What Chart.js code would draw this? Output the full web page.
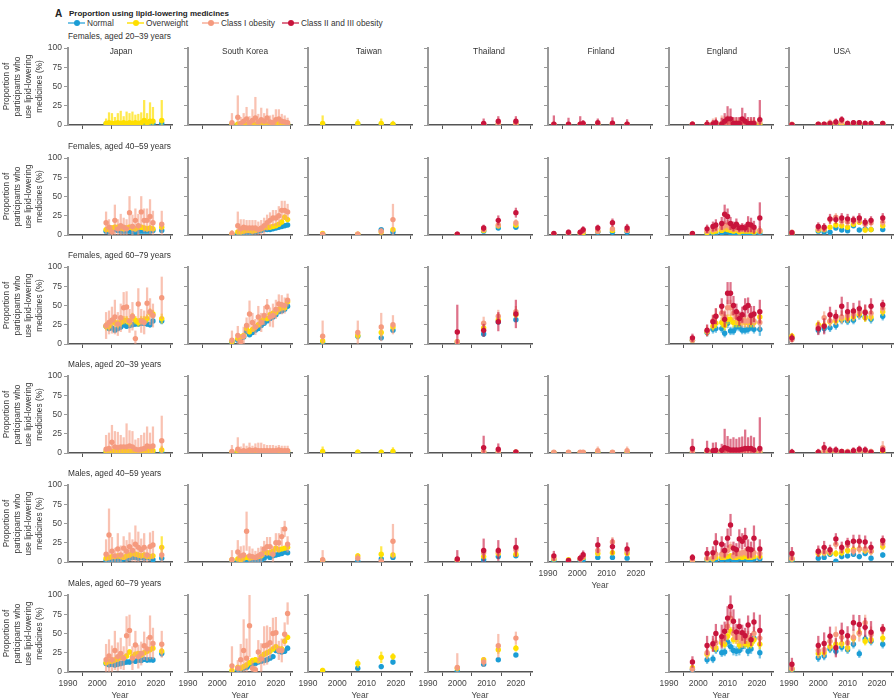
<!DOCTYPE html>
<html>
<head>
<meta charset="utf-8">
<script src="https://cdn.jsdelivr.net/npm/chart.js@4.4.1/dist/chart.umd.min.js"></script>
<style>
  body { margin: 0; width: 894px; height: 699px; overflow: hidden; background: #fff; position: relative;
         font-family: "Liberation Sans", Arial, sans-serif; color: #333; }
  canvas { position: absolute; }
  .t { position: absolute; white-space: nowrap; font-size: 8.3px; line-height: 12px; }
  .mid { transform: translateX(-50%); }
  .legline { position: absolute; height: 2px; width: 17px; }
  .legdot { position: absolute; width: 6px; height: 6px; border-radius: 50%; }
</style>
</head>
<body>
<div class="t" style="left:55px;top:8px;font-size:10px;font-weight:bold;color:#222">A</div>
<div class="t" style="left:69px;top:8px;font-size:8px;font-weight:bold;color:#222">Proportion using lipid-lowering medicines</div>
<script>
// survey years per country
const yearsJapan = [2003, 2004, 2005, 2006, 2007, 2008, 2009, 2010, 2011, 2012, 2013, 2014, 2015, 2016, 2017, 2018, 2019, 2022];
const yearsKorea = [2005, 2007, 2008, 2009, 2010, 2011, 2012, 2013, 2014, 2015, 2016, 2017, 2018, 2019, 2020, 2021, 2022, 2023, 2024];
const yearsTaiwan = [1995, 2007, 2015, 2019];
const yearsThailand = [2000, 2009, 2014, 2020];
const yearsFinland = [1992, 1997, 2001, 2002, 2007, 2012, 2017];
const yearsEngland = [1998, 2003, 2005, 2006, 2008, 2009, 2010, 2011, 2012, 2013, 2014, 2015, 2016, 2017, 2018, 2019, 2021];
const yearsUSA = [1991, 2000, 2002, 2004, 2006, 2008, 2010, 2012, 2014, 2016, 2018, 2022];

const xTicks = [1990, 2000, 2010, 2020];
const yTicks = [0, 25, 50, 75, 100];

// n = normal, o = overweight, c1 = class I, c2 = class II and III; *E = error half-width (%)
// ---- Females 20-39
const f20Japan = {
  n:  [1, 0.5, 1, 0.5, 0.5, 1, 0.5, 1, 0.5, 1, 0.5, 1, 1, 0.5, 1, 1, 1, 2],
  nE: [1, 1, 1, 1, 1, 1, 1, 1, 1, 1, 1, 1, 1, 1, 1, 1, 1, 2],
  o:  [2, 3, 2, 2, 3, 2, 3, 2, 3, 2, 3, 2, 3, 6, 3, 5, 5, 6],
  oE: [6, 13, 13, 8, 12, 16, 8, 15, 12, 15, 10, 12, 13, 26, 12, 24, 18, 26]
};
const f20Korea = {
  n:  [0.3, 0.3, 0.3, 0.3, 0.3, 0.3, 0.3, 0.3, 0.3, 0.3, 0.3, 0.3, 0.3, 0.3, 0.3, 0.3, 0.3, 0.3, 0.3],
  nE: [0.5, 0.5, 0.5, 0.5, 0.5, 0.5, 0.5, 0.5, 0.5, 0.5, 0.5, 0.5, 0.5, 0.5, 0.5, 0.5, 0.5, 0.5, 0.5],
  o:  [1, 1, 1, 1, 1, 1, 1, 1, 1, 1, 2, 1, 1, 1, 1, 2, 1, 2, 1],
  oE: [2, 2, 2, 2, 2, 2, 2, 2, 2, 2, 3, 2, 2, 2, 2, 3, 2, 3, 2],
  c1: [3, 10, 2, 5, 8, 3, 6, 9, 4, 7, 5, 9, 4, 3, 7, 8, 5, 4, 3],
  c1E:[12, 28, 8, 10, 15, 8, 14, 27, 10, 15, 10, 12, 8, 10, 13, 12, 9, 8, 6]
};
const f20Taiwan = {
  n: [0.5, 0.5, 0.5, 0.3], nE: [1, 1, 1, 1],
  o: [2, 2, 2, 1], oE: [10, 5, 6, 4]
};
const f20Thailand = {
  n: [null, 0.3, 0.5, 0.5], nE: [0, 1, 1, 1],
  o: [null, 0.5, 1, 1], oE: [0, 1, 2, 2],
  c1: [null, 1, 1.5, 2], c1E: [0, 2, 3, 3],
  c2: [null, 2, 5, 5], c2E: [0, 6, 6, 6]
};
const f20Finland = {
  n: [0.2, 0.2, 0.2, 0.2, 0.3, 0.3, 0.3], nE: [0.5, 0.5, 0.5, 0.5, 0.5, 0.5, 0.5],
  o: [0.5, 0.5, 0.5, 0.8, 0.8, 1, 0.5], oE: [1, 1, 1, 1, 1, 1, 1],
  c1: [1, 0.5, 1, 1, 1, 1.5, 1], c1E: [2, 2, 2, 2, 2, 2, 2],
  c2: [1, 1, 1, 2, 3, 2.5, 1], c2E: [11, 8, 10, 4, 5, 7, 6]
};
const f20England = {
  n:  [0.3, 0.3, 0.3, 0.3, 0.3, 0.3, 0.3, 0.3, 0.3, 0.3, 0.3, 0.3, 0.3, 0.3, 0.3, 0.3, 0.3],
  nE: [0.5, 0.5, 0.5, 0.5, 0.5, 0.5, 0.5, 0.5, 0.5, 0.5, 0.5, 0.5, 0.5, 0.5, 0.5, 0.5, 0.5],
  o:  [0.5, 0.5, 0.8, 0.8, 1, 1, 1, 1, 1, 1, 1, 1, 1, 1, 1, 1, 1.5],
  oE: [1, 1, 1, 1, 1, 1, 1, 1, 1, 1, 1, 1, 1, 1, 1, 1, 1],
  c1: [1, 1, 2, 2, 2, 3, 4, 3, 3, 3, 3, 3, 2, 2, 2, 3, 4],
  c1E:[3, 5, 6, 8, 10, 8, 8, 6, 6, 6, 6, 6, 6, 6, 6, 6, 8],
  c2: [1, 1, 1, 3, 1, 5, 8, 8, 2, 2, 2, 8, 5, 2, 2, 2, 7],
  c2E:[3, 5, 5, 5, 8, 10, 16, 13, 8, 8, 8, 14, 10, 8, 8, 8, 25]
};
const f20USA = {
  n:  [0.3, 0.3, 0.3, 0.3, 0.3, 0.3, 0.3, 0.3, 0.3, 0.3, 0.3, 0.3],
  nE: [0.5, 0.5, 0.5, 0.5, 0.5, 0.5, 0.5, 0.5, 0.5, 0.5, 0.5, 0.5],
  o:  [0.5, 0.5, 0.5, 1, 1, 1, 0.5, 1, 1, 0.5, 0.5, 1],
  oE: [1, 1, 1, 1, 1, 1, 1, 1, 1, 1, 1, 1],
  c1: [1, 1, 1, 3, 3, 4, 2, 2, 3, 2, 2, 2],
  c1E:[2, 2, 2, 4, 4, 4, 3, 3, 3, 3, 3, 3],
  c2: [0.5, 1, 1, 2, 4, 7, 2, 3, 3, 2, 2, 2],
  c2E:[1, 2, 2, 3, 4, 4, 3, 3, 3, 3, 3, 2]
};

// ---- Females 40-59
const f40Japan = {
  n:  [5, 4, 5, 7, 6, 5, 5, 5, 5, 4, 4, 5, 5, 5, 5, 5, 6, 6],
  nE: [2, 2, 2, 2, 2, 2, 2, 2, 2, 2, 2, 2, 2, 2, 2, 2, 2, 2],
  o:  [7, 7, 9, 10, 10, 9, 8, 9, 10, 9, 8, 10, 10, 9, 8, 9, 8, 10],
  oE: [3, 3, 3, 3, 3, 3, 3, 3, 3, 3, 3, 3, 3, 3, 3, 3, 3, 3],
  c1: [16, 10, 4, 19, 8, 12, 10, 8, 29, 11, 19, 12, 30, 19, 19, 24, 16, 14],
  c1E:[14, 10, 8, 20, 12, 15, 12, 12, 21, 15, 15, 15, 20, 15, 15, 22, 15, 17]
};
const f40Korea = {
  n:  [0.5, 1, 2, 2, 3, 3, 4, 4, 5, 6, 7, 7, 7, 8, 9, 10, 11, 12, 13],
  nE: [1, 1, 1, 1, 1, 1, 1, 1, 1, 1, 1, 1, 1, 1, 1, 1, 1, 1, 2],
  o:  [1, 4, 4, 5, 6, 6, 5, 6, 7, 8, 10, 10, 10, 11, 12, 14, 17, 23, 20],
  oE: [2, 2, 2, 2, 2, 2, 2, 2, 2, 2, 2, 2, 2, 2, 2, 2, 3, 3, 3],
  c1: [2, 12, 8, 10, 9, 9, 9, 9, 7, 9, 12, 16, 19, 22, 22, 25, 32, 32, 30],
  c1E:[4, 18, 12, 10, 10, 10, 10, 10, 10, 10, 10, 10, 10, 10, 10, 12, 12, 12, 10]
};
const f40Taiwan = {
  n: [1, 0.5, 7, 4], nE: [1, 1, 2, 2],
  o: [2, 1, 4, 7], oE: [2, 2, 3, 3],
  c1: [1, 1, 5, 20], c1E: [2, 3, 4, 20]
};
const f40Thailand = {
  n: [0.5, 5, 9, 10], nE: [1, 2, 2, 2],
  o: [0.5, 6, 12, 13], oE: [1, 2, 3, 3],
  c1: [0.5, 7, 13, 16], c1E: [1, 3, 4, 4],
  c2: [1, 9, 19, 29], c2E: [3, 4, 6, 6]
};
const f40Finland = {
  n: [0.5, 1, 1, 1, 3.5, 3.5, 3.5], nE: [1, 1, 1, 1, 1, 1, 1],
  o: [1, 1, 2, 3, 5, 6, 6], oE: [1, 1, 1, 2, 2, 2, 2],
  c1: [1, 2, 3, 5, 5, 8, 6], c1E: [1, 2, 2, 3, 3, 3, 3],
  c2: [2, 3.5, 3.5, 7, 9, 16, 9], c2E: [2, 3, 3, 4, 4, 5, 5]
};
const f40England = {
  n:  [0.5, 1, 2, 2, 3, 4, 4, 3, 3, 3, 2, 3, 3, 2, 2, 2, 2],
  nE: [1, 1, 1, 1, 1, 2, 2, 1, 1, 1, 1, 1, 1, 1, 1, 1, 2],
  o:  [1, 3, 4, 5, 6, 8, 7, 6, 5, 6, 4, 5, 5, 5, 5, 4, 5],
  oE: [1, 2, 2, 2, 2, 3, 3, 2, 2, 2, 2, 2, 2, 2, 2, 2, 3],
  c1: [1, 5, 7, 8, 10, 12, 13, 10, 8, 9, 7, 8, 7, 8, 8, 7, 6],
  c1E:[1, 3, 4, 4, 5, 6, 6, 5, 4, 5, 4, 4, 4, 5, 5, 4, 5],
  c2: [2, 8, 11, 13, 15, 27, 24, 15, 11, 14, 9, 10, 9, 14, 13, 10, 22],
  c2E:[2, 5, 6, 7, 8, 12, 10, 8, 6, 7, 5, 5, 5, 10, 9, 8, 20]
};
const f40USA = {
  n:  [1, 5, 4, 3.5, 9, 6.5, 5.6, 12, 6.5, 8, 7, 7],
  nE: [1, 2, 2, 2, 2, 2, 2, 2, 2, 2, 2, 2],
  o:  [2, 6.5, 7, 10, 13, 12, 10, 14, 16.5, 6.5, 7, 12],
  oE: [2, 3, 3, 3, 3, 3, 3, 3, 3, 3, 3, 3],
  c1: [3.5, 8, 8, 20, 23, 18, 17, 18, 19, 14, 16, 16.5],
  c1E:[3, 4, 4, 5, 5, 5, 5, 5, 5, 5, 5, 5],
  c2: [3, 11, 10, 21, 20, 22, 21, 19.5, 22, 16.5, 19, 22],
  c2E:[3, 5, 5, 6, 5, 6, 6, 5, 6, 5, 5, 6]
};

// ---- Females 60-79
const f60Japan = {
  n:  [23, 20, 21, 18, 20, 22, 25, 23, 24, 25, 26, 26, 27, 27, 26, 25, 30, 30],
  nE: [3, 3, 3, 3, 3, 3, 3, 3, 3, 3, 3, 3, 3, 3, 3, 3, 3, 4],
  o:  [23, 23, 29, 28, 26, 28, 31, 31, 28, 35, 31, 28, 31, 31, 33, 41, 39, 33],
  oE: [5, 5, 5, 5, 5, 5, 5, 5, 5, 5, 5, 5, 5, 5, 5, 5, 5, 6],
  c1: [24, 28, 31, 35, 26, 34, 47, 48, 30, 36, 7, 52, 30, 28, 53, 42, 37, 60],
  c1E:[17, 15, 17, 22, 15, 18, 20, 20, 15, 18, 10, 20, 15, 15, 20, 17, 15, 27]
};
const f60Korea = {
  n:  [2, 5, 7, 9, 16, 12, 15, 18, 20, 24, 27, 30, 33, 35, 38, 42, 43, 45, 49],
  nE: [1, 2, 2, 2, 2, 2, 2, 2, 2, 2, 2, 2, 2, 2, 2, 2, 2, 2, 2],
  o:  [3, 7, 9, 11, 20, 16, 19, 22, 25, 30, 34, 33, 38, 40, 41, 45, 47, 47, 55],
  oE: [3, 3, 3, 3, 3, 3, 3, 3, 3, 3, 3, 3, 3, 3, 3, 3, 3, 3, 3],
  c1: [5, 11, 3, 10, 24, 39, 28, 22, 35, 28, 37, 48, 35, 37, 45, 52, 51, 50, 57],
  c1E:[12, 12, 8, 12, 10, 17, 12, 10, 14, 12, 12, 10, 12, 15, 12, 12, 12, 10, 8]
};
const f60Taiwan = {
  n: [1, 10, 8, 18], nE: [1, 3, 3, 3],
  o: [4, 11, 15, 22], oE: [4, 5, 5, 5],
  c1: [10, 15, 22, 25], c1E: [20, 15, 18, 12]
};
const f60Thailand = {
  n: [1, 13, 28.6, 31.6], nE: [1, 3, 3, 3],
  o: [3, 21, 31.6, 38], oE: [3, 4, 4, 4],
  c1: [3, 27, 36, 42], c1E: [3, 8, 8, 7],
  c2: [15.6, 17.7, 29, 39], c2E: [35, 8, 12, 18]
};
const f60England = {
  n:  [5, 15, 19, 20, 20, 14, 27, 17, 17, 22, 22, 18, 18, 19, 22, 19, 19],
  nE: [3, 5, 5, 5, 5, 5, 6, 5, 5, 5, 5, 5, 5, 5, 5, 5, 8],
  o:  [5, 16, 23, 27, 28, 24, 32, 32, 28, 28, 28, 30, 28, 28, 28, 28, 35],
  oE: [3, 5, 5, 6, 6, 6, 6, 6, 6, 6, 6, 6, 6, 6, 6, 6, 8],
  c1: [5, 17, 30, 36, 40, 35, 47, 47, 40, 35, 33, 30, 30, 30, 33, 30, 28],
  c1E:[3, 7, 8, 10, 10, 9, 10, 10, 9, 9, 8, 8, 8, 8, 8, 8, 10],
  c2: [8, 18, 29, 36, 49, 32, 66, 66, 50, 42, 33, 38, 47, 50, 37, 39, 42],
  c2E:[5, 7, 8, 10, 10, 10, 14, 14, 12, 10, 9, 10, 12, 10, 12, 10, 15]
};
const f60USA = {
  n:  [7, 18, 20, 21, 24, 31, 30, 31, 37, 35, 32, 36],
  nE: [3, 5, 5, 5, 5, 5, 5, 5, 5, 5, 5, 5],
  o:  [10, 25, 24, 29, 30, 33, 33, 35, 39, 34, 35, 42],
  oE: [4, 5, 5, 5, 5, 5, 5, 5, 5, 5, 5, 5],
  c1: [6, 22, 34, 30, 33, 35, 37, 39, 42, 42, 40, 46],
  c1E:[4, 8, 8, 8, 8, 8, 8, 8, 8, 8, 8, 6],
  c2: [8, 20, 23, 38, 36, 49, 42, 43, 46, 41, 49, 51],
  c2E:[5, 8, 10, 10, 8, 12, 12, 10, 10, 10, 10, 6]
};

// ---- Males 20-39
const m20Japan = {
  n:  [0.5, 0.5, 0.5, 0.5, 0.5, 0.5, 0.5, 0.5, 0.5, 0.5, 0.5, 0.5, 0.5, 0.5, 0.5, 0.5, 0.5, 0.5],
  nE: [1, 1, 1, 1, 1, 1, 1, 1, 1, 1, 1, 1, 1, 1, 1, 1, 1, 1],
  o:  [2, 2, 2, 2, 2, 2, 2, 3, 2, 2, 3, 2, 2, 2, 3, 3, 3, 4],
  oE: [3, 3, 3, 3, 3, 3, 3, 3, 3, 3, 3, 3, 3, 3, 3, 3, 3, 5],
  c1: [5, 6, 14, 8, 7, 8, 8, 8, 9, 8, 5, 4, 5, 6, 9, 8, 9, 16],
  c1E:[18, 20, 22, 20, 20, 15, 12, 30, 20, 20, 12, 15, 18, 20, 25, 18, 25, 32]
};
const m20Korea = {
  n:  [0.3, 0.3, 0.3, 0.3, 0.3, 0.3, 0.3, 0.3, 0.3, 0.3, 0.3, 0.3, 0.3, 0.3, 0.3, 0.3, 0.3, 0.3, 0.3],
  nE: [0.5, 0.5, 0.5, 0.5, 0.5, 0.5, 0.5, 0.5, 0.5, 0.5, 0.5, 0.5, 0.5, 0.5, 0.5, 0.5, 0.5, 0.5, 0.5],
  o:  [1, 2, 1, 1, 2, 1, 2, 1, 2, 2, 2, 2, 2, 2, 2, 2, 2, 2, 2],
  oE: [2, 2, 2, 2, 2, 2, 2, 2, 2, 2, 2, 2, 2, 2, 2, 2, 2, 2, 2],
  c1: [2, 5, 2, 3, 2, 4, 3, 4, 3, 3, 3, 3, 3, 3, 3, 4, 3, 3, 3],
  c1E:[8, 15, 6, 9, 7, 9, 6, 8, 10, 10, 8, 7, 7, 7, 6, 6, 6, 6, 6]
};
const m20Taiwan = {
  n: [0.3, 0.3, 0.3, 0.5], nE: [0.5, 0.5, 0.5, 0.5],
  o: [2, 1, 1, 2], oE: [6, 3, 3, 5]
};
const m20Thailand = {
  n: [null, 0.3, 0.3, 0.3], nE: [0, 0.5, 0.5, 0.5],
  o: [null, 1, 1, 1], oE: [0, 1, 1, 1],
  c1: [null, 2, 2, 1], c1E: [0, 2, 2, 1],
  c2: [null, 7, 5, 1.5], c2E: [0, 15, 7, 2]
};
const m20Finland = {
  n: [0.3, 0.3, 0.3, 0.3, 0.3, 0.3, 0.3], nE: [0.5, 0.5, 0.5, 0.5, 0.5, 0.5, 0.5],
  o: [0.5, 0.5, 0.5, 0.5, 0.5, 0.5, 0.5], oE: [1, 1, 1, 1, 1, 1, 1],
  c1: [1, 1, 1, 1, 3, 1, 3], c1E: [2, 2, 2, 2, 5, 2, 5]
};
const m20England = {
  n:  [0.3, 0.3, 0.3, 0.3, 0.3, 0.3, 0.3, 0.3, 0.3, 0.3, 0.3, 0.3, 0.3, 0.3, 0.3, 0.3, 0.3],
  nE: [0.5, 0.5, 0.5, 0.5, 0.5, 0.5, 0.5, 0.5, 0.5, 0.5, 0.5, 0.5, 0.5, 0.5, 0.5, 0.5, 0.5],
  o:  [0.8, 0.8, 0.8, 0.8, 0.8, 0.8, 0.8, 0.8, 0.8, 0.8, 0.8, 0.8, 0.8, 0.8, 0.8, 0.8, 0.8],
  oE: [1, 1, 1, 1, 1, 1, 1, 1, 1, 1, 1, 1, 1, 1, 1, 1, 1],
  c1: [2, 1, 2, 2, 2, 2, 2, 2, 2, 2, 2, 2, 2, 2, 2, 2, 3],
  c1E:[3, 3, 4, 4, 4, 4, 4, 4, 4, 4, 4, 4, 4, 4, 4, 4, 5],
  c2: [6, 3.5, 3, 3.5, 3.5, 7, 5.6, 4, 4, 4, 4, 5, 6, 6, 6, 4, 6],
  c2E:[12, 12, 10, 10, 8, 24, 16, 14, 16, 14, 16, 16, 24, 14, 16, 16, 40]
};
const m20USA = {
  n:  [0.3, 0.3, 0.3, 0.3, 0.3, 0.3, 0.3, 0.3, 0.3, 0.3, 0.3, 0.3],
  nE: [0.5, 0.5, 0.5, 0.5, 0.5, 0.5, 0.5, 0.5, 0.5, 0.5, 0.5, 0.5],
  o:  [0.5, 0.5, 1, 1, 1, 1, 0.5, 1, 1, 1, 1, 1],
  oE: [1, 1, 1, 1, 1, 1, 1, 1, 1, 1, 1, 1],
  c1: [1, 1, 3, 2, 2, 2, 2, 2, 2, 2, 2, 7],
  c1E:[3, 3, 3, 3, 3, 3, 3, 3, 3, 3, 3, 8],
  c2: [1, 1, 7, 4, 4, 2, 1, 3, 5, 4, 1, 4],
  c2E:[4, 4, 7, 4, 4, 2, 2, 4, 4, 4, 2, 4]
};

// ---- Males 40-59
const m40Japan = {
  n:  [2, 2, 3, 4, 3, 2, 4, 4, 5, 6, 6, 5, 6, 5, 6, 5, 3, 5],
  nE: [2, 2, 2, 2, 2, 2, 2, 2, 2, 2, 2, 2, 2, 2, 2, 2, 2, 2],
  o:  [5, 6, 7, 7, 8, 7, 6, 8, 9, 11, 10, 9, 8, 9, 7, 7, 8, 19],
  oE: [3, 3, 3, 3, 3, 3, 3, 3, 3, 3, 3, 3, 3, 3, 3, 3, 3, 14],
  c1: [10, 35, 14, 8, 17, 9, 18, 14, 20, 15, 23, 19, 16, 19, 9, 20, 22, 9],
  c1E:[19, 34, 18, 10, 20, 12, 15, 14, 18, 14, 24, 20, 14, 18, 10, 18, 18, 12]
};
const m40Korea = {
  n:  [0, 1, 1, 2, 2, 2, 2, 3, 3, 3, 5, 8, 6, 8, 9, 10, 11, 13, 12],
  nE: [1, 1, 1, 1, 1, 1, 1, 1, 1, 1, 1, 2, 2, 2, 2, 2, 2, 2, 2],
  o:  [3, 4, 3, 5, 6, 5, 6, 6, 7, 8, 13, 12, 12, 14, 18, 16, 17, 18, 19],
  oE: [2, 2, 2, 2, 2, 2, 2, 2, 2, 2, 2, 2, 2, 2, 2, 2, 2, 2, 2],
  c1: [3, 13, 8, 9, 40, 8, 7, 6, 8, 10, 17, 20, 20, 10, 25, 25, 33, 43, 23],
  c1E:[12, 15, 12, 12, 25, 12, 10, 8, 10, 10, 10, 12, 12, 10, 12, 12, 12, 10, 10]
};
const m40Taiwan = {
  n: [0.3, 1, 4, 6], nE: [1, 1, 2, 2],
  o: [2, 8, 10, 9], oE: [3, 3, 10, 3],
  c1: [3, 5, 1, 27], c1E: [12, 5, 3, 22]
};
const m40Thailand = {
  n: [1, 3, 7, 8], nE: [1, 2, 2, 2],
  o: [2, 7, 11, 10], oE: [2, 3, 3, 3],
  c1: [3, 12, 13, 16], c1E: [3, 6, 6, 6],
  c2: [4, 15, 15, 19], c2E: [11, 15, 13, 12]
};
const m40Finland = {
  n: [2, 1, 2, 3, 6, 6, 5], nE: [1, 1, 1, 1, 2, 2, 2],
  o: [4, 3, 4, 6, 11, 12, 11], oE: [2, 2, 2, 2, 2, 2, 2],
  c1: [5, 2, 4, 7, 15, 26, 14], c1E: [3, 2, 3, 4, 6, 6, 6],
  c2: [8, 2, 5, 9.5, 22, 20, 17], c2E: [6, 2, 4, 5, 10, 10, 8]
};
const m40England = {
  n:  [1, 3, 2, 3, 3, 4, 3, 4, 3, 3, 4, 4, 4, 3, 3, 4, 4],
  nE: [1, 2, 2, 2, 2, 2, 2, 2, 2, 2, 2, 2, 2, 2, 2, 2, 2],
  o:  [2, 4, 4, 6, 6, 6, 7, 8, 6, 6, 7, 6, 7, 6, 6, 7, 7],
  oE: [2, 3, 3, 3, 3, 3, 3, 3, 3, 3, 3, 3, 3, 3, 3, 3, 3],
  c1: [3, 5, 6, 10, 10, 10, 15, 20, 8, 10, 11, 12, 13, 10, 9, 12, 11],
  c1E:[3, 5, 5, 6, 6, 6, 6, 6, 5, 5, 5, 5, 5, 5, 5, 6, 8],
  c2: [6, 11, 12, 25, 23, 15, 31, 48, 18, 16, 30, 27, 32, 17, 16, 31, 17],
  c2E:[4, 8, 8, 12, 10, 9, 12, 14, 8, 8, 12, 10, 12, 12, 10, 16, 12]
};
const m40USA = {
  n:  [2, 5, 6, 10, 1, 7, 8, 10, 7, 11, 5, 9],
  nE: [2, 3, 3, 3, 2, 3, 3, 3, 3, 3, 3, 3],
  o:  [4, 11, 12, 12, 11, 12, 15, 16, 17, 15, 14, 20],
  oE: [3, 4, 4, 4, 4, 4, 4, 4, 4, 4, 4, 4],
  c1: [5, 13, 13, 14, 23, 17, 22, 14, 17, 17, 14, 24],
  c1E:[4, 5, 5, 5, 6, 6, 6, 5, 6, 6, 5, 6],
  c2: [11, 14, 19, 16, 30, 19, 25, 27, 27, 26, 19, 28],
  c2E:[8, 7, 8, 6, 7, 7, 6, 8, 8, 8, 7, 6]
};

// ---- Males 60-79
const m60Japan = {
  n:  [11, 9.5, 10, 9, 10, 11, 12, 13, 13, 15, 14, 15.5, 15, 16.4, 15.5, 16, 15.5, 24],
  nE: [3, 3, 3, 3, 3, 3, 3, 3, 3, 3, 3, 3, 3, 3, 3, 3, 3, 4],
  o:  [12, 14, 14, 15.5, 17, 19, 18.5, 20.7, 26, 20, 23, 24, 22, 25, 27, 29, 31, 27],
  oE: [3, 3, 3, 3, 3, 3, 3, 3, 3, 3, 3, 3, 3, 3, 3, 3, 3, 4],
  c1: [16, 21, 16, 28, 20, 24, 18, 47, 54, 18, 35, 20, 24, 34, 30, 45, 37, 36],
  c1E:[20, 21, 18, 25, 18, 20, 15, 25, 20, 15, 18, 15, 15, 18, 15, 28, 20, 17]
};
const m60Korea = {
  n:  [0, 3, 4, 5, 6, 8, 10, 11, 13, 14, 15, 16, 18, 20, 28, 27, 26, 27, 31],
  nE: [1, 1, 1, 1, 1, 1, 2, 2, 2, 2, 2, 2, 2, 2, 3, 3, 3, 3, 3],
  o:  [2, 6, 5, 7, 9, 12, 15, 16, 15, 20, 23, 25, 27, 30, 33, 30, 30, 40, 45],
  oE: [3, 3, 3, 3, 3, 3, 3, 3, 3, 3, 3, 3, 3, 3, 3, 3, 3, 3, 3],
  c1: [8, 5, 16, 28, 18, 60, 5, 3, 26, 17, 34, 35, 38, 50, 51, 28, 28, 49, 76],
  c1E:[25, 10, 20, 40, 25, 40, 10, 5, 15, 20, 25, 25, 20, 20, 20, 12, 15, 15, 14]
};
const m60Taiwan = {
  n: [1, 5, 7, 13], nE: [1, 3, 3, 3],
  o: [2, 11, 19, 20], oE: [3, 5, 7, 4]
};
const m60Thailand = {
  n: [1, 10, 16, 22], nE: [1, 2, 2, 2],
  o: [5, 16, 29, 31], oE: [3, 3, 5, 4],
  c1: [6, 13, 34, 44], c1E: [18, 6, 15, 8]
};
const m60England = {
  n:  [3, 16, 17, 29, 25, 26, 39, 33, 28, 27, 28, 33, 36, 27, 30, 44, 25],
  nE: [3, 5, 5, 5, 5, 5, 6, 6, 6, 6, 6, 6, 6, 6, 6, 6, 7],
  o:  [5.6, 23, 33, 31.5, 38, 36, 46.5, 53, 42, 42, 35, 37, 37, 36, 36, 42, 36],
  oE: [3, 5, 5, 5, 5, 5, 5, 5, 5, 5, 5, 5, 5, 5, 5, 5, 6],
  c1: [3.5, 25, 35, 38, 42, 45, 59.5, 70, 50, 45, 45, 40, 45, 45, 42, 50, 44],
  c1E:[3, 8, 8, 8, 8, 8, 8, 8, 8, 8, 8, 8, 8, 8, 8, 8, 10],
  c2: [13, 34.5, 36.6, 50, 46, 53, 70, 85, 66, 52, 59, 51, 47, 61, 42, 65, 54],
  c2E:[7, 12, 10, 12, 15, 12, 15, 14, 15, 10, 10, 10, 10, 12, 8, 12, 20]
};
const m60USA = {
  n:  [3, 18.5, 20.7, 30, 27, 32, 29, 36, 23.7, 43, 40, 36],
  nE: [3, 5, 5, 5, 5, 5, 5, 5, 5, 5, 5, 5],
  o:  [4, 24, 25, 33, 36, 36.6, 31.5, 43.5, 51, 40, 42, 44],
  oE: [4, 5, 5, 5, 5, 5, 5, 5, 5, 5, 5, 5],
  c1: [5, 28, 29, 40, 48.7, 45, 38, 45, 50, 64, 48.7, 55],
  c1E:[6, 10, 10, 10, 10, 10, 10, 10, 10, 10, 10, 6],
  c2: [10, 34.5, 37, 46.5, 31.5, 51.7, 47, 64, 61.6, 58, 51.7, 56],
  c2E:[8, 12, 14, 12, 12, 12, 12, 10, 12, 12, 14, 6]
};

const countries = [
  { name: 'Japan', years: yearsJapan, cx: 121 },
  { name: 'South Korea', years: yearsKorea, cx: 245 },
  { name: 'Taiwan', years: yearsTaiwan, cx: 369 },
  { name: 'Thailand', years: yearsThailand, cx: 489 },
  { name: 'Finland', years: yearsFinland, cx: 601 },
  { name: 'England', years: yearsEngland, cx: 722 },
  { name: 'USA', years: yearsUSA, cx: 842 }
];

const rows = [
  { label: 'Females, aged 20–39 years', panels: [f20Japan, f20Korea, f20Taiwan, f20Thailand, f20Finland, f20England, f20USA] },
  { label: 'Females, aged 40–59 years', panels: [f40Japan, f40Korea, f40Taiwan, f40Thailand, f40Finland, f40England, f40USA] },
  { label: 'Females, aged 60–79 years', panels: [f60Japan, f60Korea, f60Taiwan, f60Thailand, null, f60England, f60USA] },
  { label: 'Males, aged 20–39 years', panels: [m20Japan, m20Korea, m20Taiwan, m20Thailand, m20Finland, m20England, m20USA] },
  { label: 'Males, aged 40–59 years', panels: [m40Japan, m40Korea, m40Taiwan, m40Thailand, m40Finland, m40England, m40USA] },
  { label: 'Males, aged 60–79 years', panels: [m60Japan, m60Korea, m60Taiwan, m60Thailand, null, m60England, m60USA] }
];

const series = [
  { key: 'n',  label: 'Normal',                   color: '#1b9dd5', bar: 'rgba(27,157,213,0.6)' },
  { key: 'o',  label: 'Overweight',               color: '#ffdf00', bar: 'rgba(255,223,0,0.7)' },
  { key: 'c1', label: 'Class I obesity',          color: '#f59a7e', bar: 'rgba(245,154,126,0.6)' },
  { key: 'c2', label: 'Class II and III obesity', color: '#c8143c', bar: 'rgba(200,20,60,0.6)' }
];

// layout (px)
const COL_X = [68, 188, 308, 428, 548, 669, 789];
const ROW_TOP = [48, 158, 267, 376, 485, 595];
const PLOT_W = 104, PLOT_H = 77;
const FONT = '"Liberation Sans", Arial, sans-serif';
const tickFont = { family: FONT, size: 8.5 };

function addText(text, left, top, extra) {
  const d = document.createElement('div');
  d.className = 't' + (extra ? ' ' + extra : '');
  d.textContent = text;
  d.style.left = left + 'px';
  d.style.top = top + 'px';
  document.body.appendChild(d);
  return d;
}

// legend
const legendX = [68, 127, 202, 282];
series.forEach((s, i) => {
  const line = document.createElement('div');
  line.className = 'legline';
  line.style.left = legendX[i] + 'px';
  line.style.top = '21.5px';
  line.style.background = s.bar;
  document.body.appendChild(line);
  const dot = document.createElement('div');
  dot.className = 'legdot';
  dot.style.left = (legendX[i] + 5.5) + 'px';
  dot.style.top = '19.5px';
  dot.style.background = s.color;
  document.body.appendChild(dot);
  addText(s.label, legendX[i] + 19, 16.5);
});

function buildDatasets(panel, years) {
  const sets = [];
  series.forEach((s, i) => {
    const vals = panel[s.key];
    if (!vals) return;
    const errs = panel[s.key + 'E'];
    const bars = [], pts = [];
    vals.forEach((v, j) => {
      if (v === null) return;
      const e = errs[j];
      bars.push({ x: years[j], y: [Math.max(0, v - e), Math.min(100, v + e)] });
      pts.push({ x: years[j], y: v });
    });
    // error bars: thin floating bars on the same x scale
    sets.push({ type: 'bar', data: bars, backgroundColor: s.bar, borderWidth: 0,
      barThickness: 1.6, maxBarThickness: 1.6, grouped: false, order: 7 - 2 * i });
    sets.push({ type: 'scatter', data: pts, backgroundColor: s.color, pointRadius: 2.7,
      pointBorderWidth: 0, pointHoverRadius: 0, order: 6 - 2 * i });
  });
  return sets;
}

function makePanel(r, c, panel) {
  const first = c === 0;
  const showX = r === 5 || (r === 4 && c === 4);
  const L = first ? COL_X[0] : 16, R = 8, T = 8, B = 29;
  const w = L + PLOT_W + R, h = T + PLOT_H + B;
  const cv = document.createElement('canvas');
  cv.width = w; cv.height = h;
  cv.style.left = (COL_X[c] - L) + 'px';
  cv.style.top = (ROW_TOP[r] - T) + 'px';
  document.body.appendChild(cv);

  new Chart(cv, {
    type: 'scatter',
    data: { datasets: buildDatasets(panel, countries[c].years) },
    options: {
      responsive: false,
      animation: false,
      devicePixelRatio: 1,
      layout: { padding: { left: 0, right: R, top: T, bottom: 0 } },
      plugins: { legend: { display: false }, tooltip: { enabled: false } },
      events: [],
      scales: {
        x: {
          type: 'linear', min: 1990, max: 2025.5, offset: false,
          afterBuildTicks: sc => { sc.ticks = xTicks.map(v => ({ value: v })); },
          afterFit: sc => { sc.height = B; },
          grid: { drawOnChartArea: false, drawTicks: true, tickLength: 4, color: '#555', lineWidth: 1 },
          border: { color: '#555', width: 1.5 },
          ticks: { color: showX ? '#444' : 'rgba(0,0,0,0)', font: tickFont, padding: 2.5,
                   maxRotation: 0, autoSkip: false, callback: v => String(v) },
          title: { display: showX, text: 'Year', color: '#444', font: { family: FONT, size: 8.5 }, padding: 0 }
        },
        y: {
          type: 'linear', min: 0, max: 100,
          afterBuildTicks: sc => { sc.ticks = yTicks.map(v => ({ value: v })); },
          afterFit: sc => { sc.width = L; },
          grid: { drawOnChartArea: false, drawTicks: true, tickLength: 4, color: '#999', lineWidth: 1 },
          border: { color: '#999', width: 2 },
          ticks: { color: first ? '#444' : 'rgba(0,0,0,0)', font: tickFont, padding: 2 },
          title: { display: first, text: ['Proportion of', 'participants who', 'use lipid-lowering', 'medicines (%)'],
                   color: '#333', font: { family: FONT, size: 8.3, lineHeight: '11px' }, padding: { top: 1.5, bottom: 0 } }
        }
      }
    }
  });
}

rows.forEach((row, r) => {
  addText(row.label, COL_X[0], ROW_TOP[r] - 18.5);
  row.panels.forEach((panel, c) => {
    if (panel) makePanel(r, c, panel);
  });
});
countries.forEach(ct => addText(ct.name, ct.cx, ROW_TOP[0] - 3, 'mid'));
</script>
</body>
</html>
